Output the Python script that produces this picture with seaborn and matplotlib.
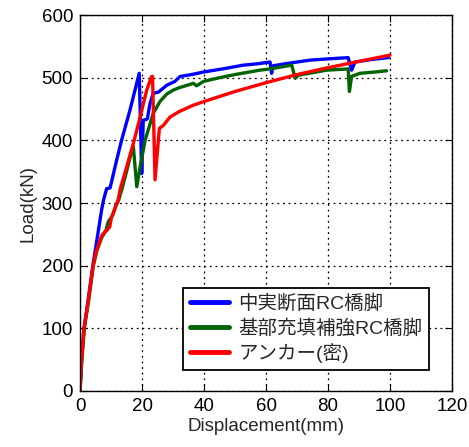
import numpy as np
import pandas as pd
import matplotlib
matplotlib.use("Agg")
import matplotlib.pyplot as plt
import seaborn as sns

# Load-displacement curves for three pier specimens
labels = ["中実断面RC橋脚", "基部充填補強RC橋脚", "アンカー(密)"]
colors = ["#0000ff", "#006400", "#ff0000"]

solid_disp = [0, 0.5, 1.3, 2.7, 4.2, 5.8, 7.0, 7.6, 8.6, 9.7, 11.8, 13.4, 16.1, 19.1,
              19.9, 20.4, 21.7, 22.6, 23.6, 25.3, 28, 30.6, 32.3, 36, 39.8, 46, 52.7,
              57, 61.3, 61.8, 62.3, 66, 70, 74.2, 80, 86.5, 87.6, 88.7, 94, 99.5]
solid_load = [0, 50, 100, 148, 202, 252, 290, 305, 323, 324, 368, 400, 448, 507,
              347, 432, 434, 459, 475, 477, 488, 494, 502, 505, 509, 514, 520,
              522, 525, 507, 519, 522, 525, 528, 530, 532, 512, 525, 529, 532]

filled_disp = [0, 0.6, 1.4, 2.8, 4.3, 5.5, 7, 8.3, 9.1, 10.6, 11.5, 12.5, 13.5, 15,
               16.7, 17.2, 18.3, 19.4, 21, 23.6, 25.8, 28, 30, 32, 36.6, 37.6, 39.8,
               45, 50, 58, 61.3, 68.3, 69.4, 70.5, 75, 79.6, 86.5, 86.9, 87.6, 90.3,
               95, 98.9]
filled_load = [0, 50, 100, 145, 200, 225, 245, 255, 270, 281, 295, 305, 322, 350,
               384, 390, 326, 358, 400, 443, 462, 474, 480, 484, 491, 487, 494,
               500, 505, 512, 514, 520, 499, 504, 508, 512, 514, 478, 502, 507,
               509, 511]

anchor_disp = [0, 0.5, 1.3, 2.7, 4.2, 5.2, 6.3, 7, 8, 8.6, 9.6, 10.1, 11, 12.3,
               12.9, 15, 17.2, 19.4, 21.5, 23.1, 23.4, 24.2, 25.6, 26.9, 29, 32,
               36.5, 40, 50, 60, 70, 80, 90, 100]
anchor_load = [0, 50, 100, 145, 200, 222, 238, 248, 254, 256, 262, 276, 288, 305,
               321, 357, 395, 437, 480, 502, 502, 337, 419, 424, 437, 446,
               456, 462, 478, 492, 505, 516, 526, 536]

x_ticks = [0, 20, 40, 60, 80, 100, 120]
y_ticks = [0, 100, 200, 300, 400, 500, 600]

frames = []
for name, d, l in zip(labels,
                      [solid_disp, filled_disp, anchor_disp],
                      [solid_load, filled_load, anchor_load]):
    frames.append(pd.DataFrame({"disp": d, "load": l, "series": name,
                                "order": np.arange(len(d))}))
df = pd.concat(frames, ignore_index=True)

sns.set_style("ticks")
plt.rcParams["font.family"] = ["Liberation Sans", "Noto Sans CJK JP", "DejaVu Sans"]

fig = plt.figure(figsize=(4.69, 4.47), dpi=100)
ax = fig.add_axes([0.1706, 0.1253, 0.7932, 0.8411])

sns.lineplot(data=df, x="disp", y="load", hue="series", hue_order=labels,
             palette=dict(zip(labels, colors)), sort=False, estimator=None,
             linewidth=2.4, ax=ax)

ax.set_xlim(0, 120)
ax.set_ylim(0, 600)
ax.set_xticks(x_ticks)
ax.set_yticks(y_ticks)
ax.grid(True, color="black", linestyle=(0, (1.5, 3)), linewidth=0.9)
ax.tick_params(direction="in", length=5, width=0.8, top=True, right=True,
               labelsize=13.5, pad=5, colors="black")
for s in ax.spines.values():
    s.set_color("black")
    s.set_linewidth(1.0)

ax.set_xlabel("Displacement(mm)", fontsize=13.5, labelpad=2)
ax.set_ylabel("Load(kN)", fontsize=13.5, labelpad=4)

leg = ax.legend(loc="lower left", bbox_to_anchor=(0.277, 0.056), fontsize=14,
                frameon=True, fancybox=False, framealpha=1, edgecolor="black",
                borderpad=0.35, labelspacing=0.3, handlelength=2.0,
                handletextpad=0.5, borderaxespad=0)
leg.get_frame().set_linewidth(1.3)
for h in leg.get_lines():
    h.set_linewidth(3.5)

fig.savefig("out.png", dpi=100)
